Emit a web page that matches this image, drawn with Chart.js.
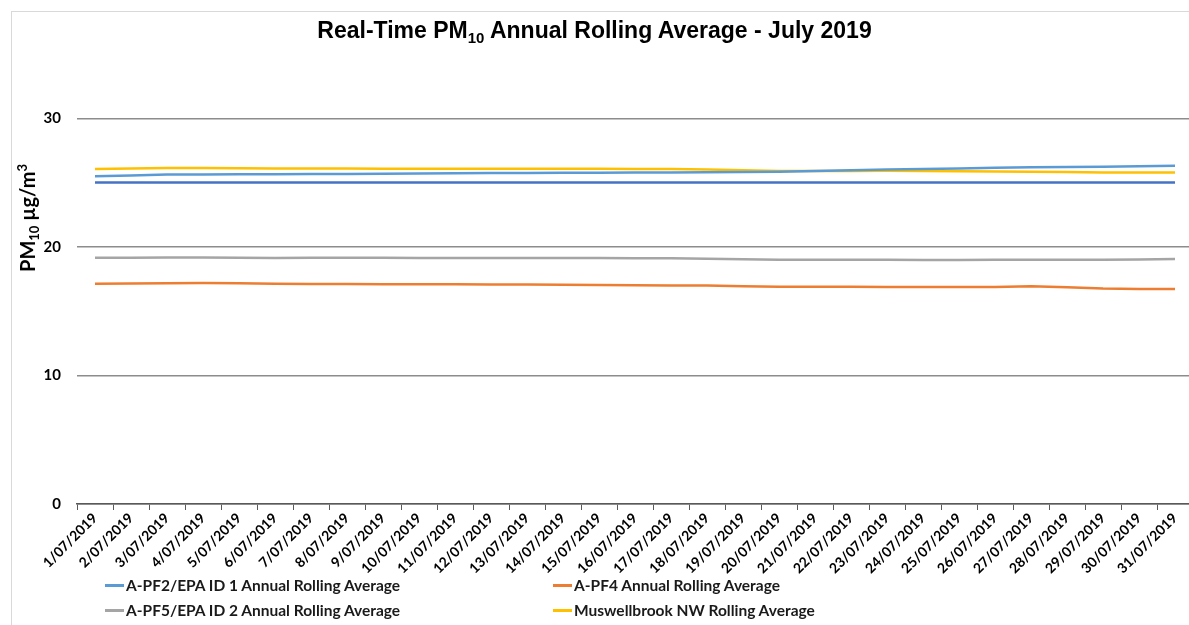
<!DOCTYPE html>
<html>
<head>
<meta charset="utf-8">
<script src="https://cdn.jsdelivr.net/npm/chart.js@4"></script>
<style>
    body { margin: 0; overflow: hidden; background: #fff; font-family: Lato, "Open Sans", sans-serif; }
    #wrap { position: relative; width: 1195px; height: 625px; }
    #frame { position: absolute; left: 11px; top: 11px; width: 1300px; height: 700px; border: 1px solid #d9d9d9; }
    #chart-box { position: absolute; left: 0; top: 0; width: 1195px; height: 625px; }
    #title { position: absolute; left: 0; width: 1189px; top: 17px; text-align: center; font-family: "Liberation Sans Narrow", "Liberation Sans", sans-serif; font-weight: bold; font-size: 23px; color: #000; }
    #title sub { font-size: 15px; vertical-align: -5px; line-height: 0; }
    #y-title { position: absolute; left: 27px; top: 218px; transform: translate(-50%, -50%) rotate(-90deg); white-space: nowrap; font-weight: bold; font-size: 20px; color: #000; }
    #y-title sub { font-size: 13px; vertical-align: -4px; line-height: 0; }
    #y-title sup { font-size: 13px; vertical-align: 8px; line-height: 0; }
    .legend-item { position: absolute; font-weight: bold; font-size: 15.5px; color: #1a1a1a; white-space: nowrap; display: flex; align-items: center; }
    .legend-item span.swatch { display: inline-block; width: 19px; height: 3px; margin-right: 2px; }
</style>
</head>
<body>
<div id="wrap">
    <div id="frame"></div>
    <div id="chart-box"><canvas id="pm-chart"></canvas></div>
    <div id="title">Real-Time PM<sub>10</sub> Annual Rolling Average - July 2019</div>
    <div id="y-title">PM<sub>10</sub> µg/m<sup>3</sup></div>
    <div id="legend"></div>
</div>
<script>
// Data
const dates = [
    '1/07/2019', '2/07/2019', '3/07/2019', '4/07/2019', '5/07/2019', '6/07/2019', '7/07/2019', '8/07/2019',
    '9/07/2019', '10/07/2019', '11/07/2019', '12/07/2019', '13/07/2019', '14/07/2019', '15/07/2019', '16/07/2019',
    '17/07/2019', '18/07/2019', '19/07/2019', '20/07/2019', '21/07/2019', '22/07/2019', '23/07/2019', '24/07/2019',
    '25/07/2019', '26/07/2019', '27/07/2019', '28/07/2019', '29/07/2019', '30/07/2019', '31/07/2019'
];

const apf2 = [25.49, 25.55, 25.62, 25.63, 25.64, 25.65, 25.66, 25.67, 25.69, 25.70, 25.72, 25.74, 25.75, 25.76, 25.77, 25.78,
    25.79, 25.80, 25.82, 25.84, 25.90, 25.96, 26.02, 26.06, 26.10, 26.15, 26.20, 26.22, 26.24, 26.26, 26.30];
const apf4 = [17.13, 17.15, 17.17, 17.18, 17.16, 17.13, 17.12, 17.11, 17.10, 17.09, 17.09, 17.08, 17.08, 17.06, 17.03, 17.01,
    17.00, 16.99, 16.94, 16.90, 16.89, 16.89, 16.88, 16.87, 16.87, 16.88, 16.94, 16.86, 16.76, 16.73, 16.72];
const apf5 = [19.15, 19.15, 19.17, 19.17, 19.15, 19.14, 19.15, 19.16, 19.15, 19.14, 19.14, 19.14, 19.14, 19.14, 19.13, 19.12,
    19.12, 19.08, 19.03, 19.00, 19.00, 19.00, 19.00, 18.97, 18.98, 19.00, 19.00, 19.00, 19.00, 19.01, 19.05];
const muswellbrook = [26.06, 26.10, 26.14, 26.14, 26.12, 26.10, 26.09, 26.09, 26.08, 26.08, 26.08, 26.07, 26.07, 26.07, 26.07, 26.06,
    26.06, 26.02, 25.96, 25.90, 25.90, 25.90, 25.92, 25.90, 25.88, 25.86, 25.84, 25.82, 25.79, 25.78, 25.78];
const criteria = dates.map(() => 25);

const yTicks = [0, 10, 20, 30];

const seriesNames = [
    'A-PF2/EPA ID 1 Annual Rolling Average',
    'A-PF4 Annual Rolling Average',
    'A-PF5/EPA ID 2 Annual Rolling Average',
    'Muswellbrook NW Rolling Average'
];
const seriesColors = ['#5b9bd5', '#ed7d31', '#a5a5a5', '#ffc000'];

function makeLine(label, data, color) {
    return {
        label: label,
        data: data,
        borderColor: color,
        backgroundColor: color,
        borderWidth: 2.5,
        pointRadius: 0,
        tension: 0,
        fill: false
    };
}

const datasets = [
    makeLine('Criteria', criteria, '#4472c4'),
    makeLine(seriesNames[0], apf2, seriesColors[0]),
    makeLine(seriesNames[1], apf4, seriesColors[1]),
    makeLine(seriesNames[2], apf5, seriesColors[2]),
    makeLine(seriesNames[3], muswellbrook, seriesColors[3])
];

// Legend laid out in two columns like the original
const legendPos = [[105, 576], [553, 576], [105, 601], [553, 601]];
const legend = document.getElementById('legend');
seriesNames.forEach((name, i) => {
    const item = document.createElement('div');
    item.className = 'legend-item';
    item.style.left = legendPos[i][0] + 'px';
    item.style.top = legendPos[i][1] + 'px';
    item.innerHTML = `<span class="swatch" style="background:${seriesColors[i]}"></span>${name}`;
    legend.appendChild(item);
});

const ctx = document.getElementById('pm-chart').getContext('2d');
new Chart(ctx, {
    type: 'line',
    data: {
        labels: dates,
        datasets: datasets
    },
    options: {
        responsive: true,
        maintainAspectRatio: false,
        animation: false,
        layout: {
            padding: { top: 54, right: 2, bottom: 41, left: 0 }
        },
        plugins: {
            legend: { display: false },
            tooltip: { enabled: false }
        },
        scales: {
            x: {
                offset: true,
                grid: {
                    offset: true,
                    drawOnChartArea: false,
                    drawTicks: true,
                    tickLength: 6,
                    color: '#595959',
                    lineWidth: 1
                },
                border: { display: true, color: '#595959', width: 1.5 },
                ticks: {
                    autoSkip: false,
                    maxRotation: 45,
                    minRotation: 45,
                    padding: 0,
                    color: '#000',
                    font: { family: 'Lato', weight: 'bold', size: 14 }
                },
                afterFit: (scale) => { scale.height = 80; }
            },
            y: {
                min: 0,
                max: 35,
                afterBuildTicks: (axis) => {
                    axis.ticks = yTicks.map(v => ({ value: v }));
                },
                grid: {
                    drawTicks: false,
                    color: '#8c8c8c',
                    lineWidth: 1.5
                },
                border: { display: false },
                ticks: {
                    padding: 16,
                    color: '#000',
                    font: { family: 'Lato', weight: 'bold', size: 15 }
                },
                afterFit: (scale) => { scale.width = 77; }
            }
        }
    }
});
</script>
</body>
</html>
